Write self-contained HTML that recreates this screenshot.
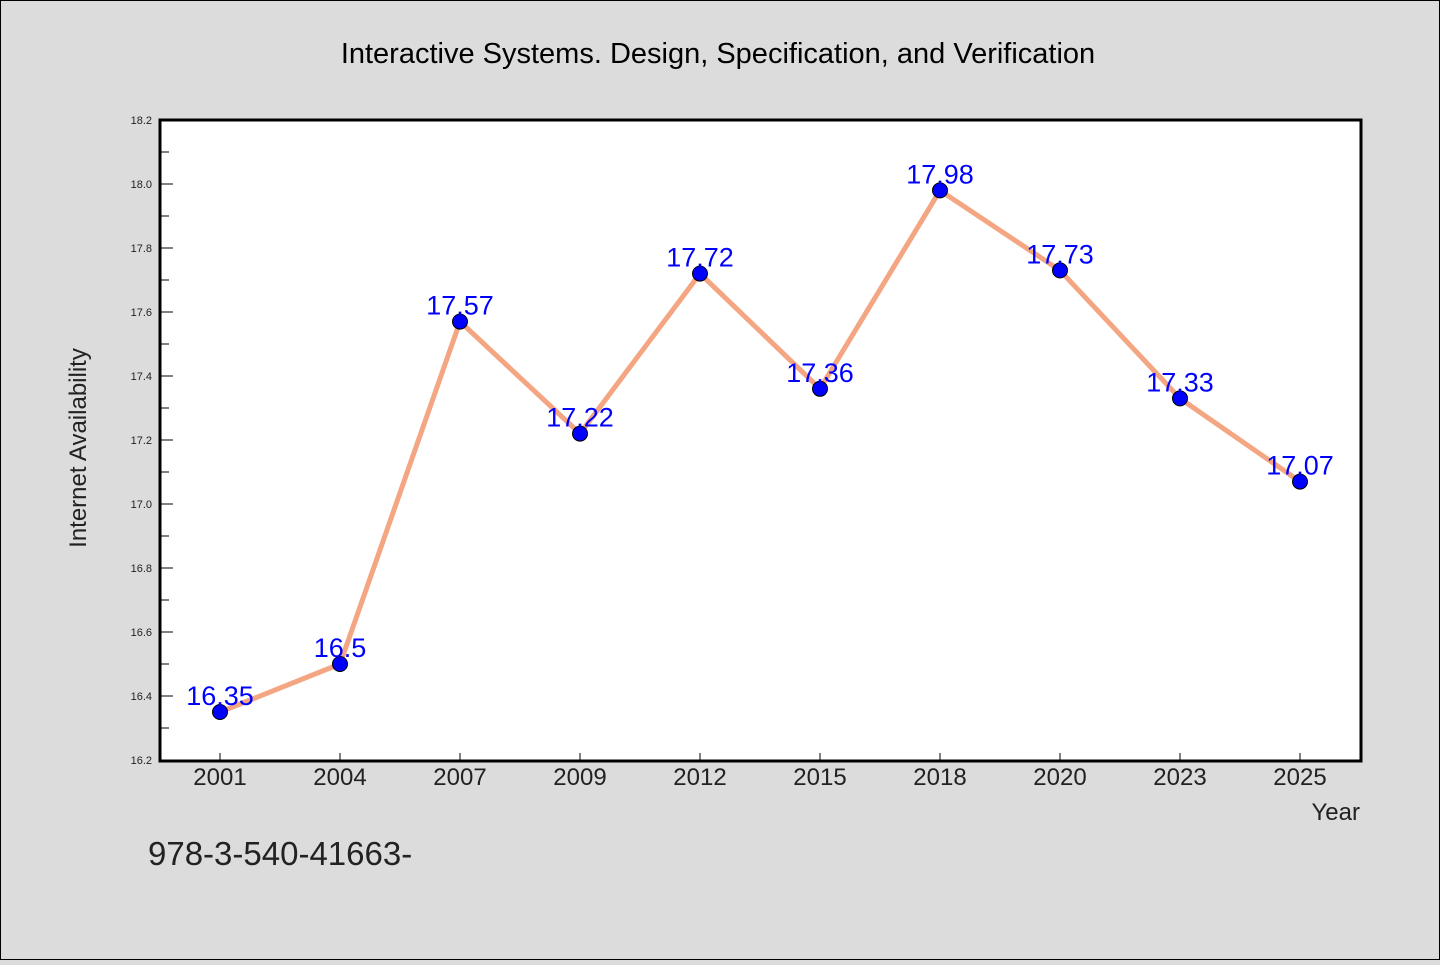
<!DOCTYPE html>
<html><head><meta charset="utf-8"><style>
html,body{margin:0;padding:0;background:#dcdcdc;}
svg text{font-family:"WenQuanYi Zen Hei","Liberation Sans",sans-serif;}
</style></head><body>
<svg width="1440" height="960" xmlns="http://www.w3.org/2000/svg">
<rect x="0.5" y="0.5" width="1439" height="959" fill="#dcdcdc" stroke="#000"/>
<text x="718" y="63" font-size="29" text-anchor="middle" fill="#000">Interactive Systems. Design, Specification, and Verification</text>
<rect x="160" y="120" width="1201" height="641" fill="#fff"/>
<g id="axes"></g>
<g id="marks"></g>
<rect x="160" y="120" width="1201" height="641" fill="none" stroke="#000" stroke-width="3"/>
<text x="86" y="448" font-size="24" text-anchor="middle" transform="rotate(-90 86 448)" fill="#222">Internet Availability</text>
<text x="1360" y="820" font-size="24" text-anchor="end" fill="#222">Year</text>
<text x="148" y="865" font-size="33" fill="#222">978-3-540-41663-</text>
</svg>
<script>
const categories=["2001","2004","2007","2009","2012","2015","2018","2020","2023","2025"];
const values=[16.35,16.5,17.57,17.22,17.72,17.36,17.98,17.73,17.33,17.07];
const yTicks=[16.2,16.4,16.6,16.8,17.0,17.2,17.4,17.6,17.8,18.0,18.2];
const NS="http://www.w3.org/2000/svg";
const x0=160,x1=1360,yTop=120,yBot=760,yMin=16.2,yMax=18.2;
const xs=i=>x0+(i+0.5)*(x1-x0)/categories.length;
const ys=v=>yBot-(v-yMin)/(yMax-yMin)*(yBot-yTop);
function mk(tag,attrs,parent){const e=document.createElementNS(NS,tag);for(const k in attrs)e.setAttribute(k,attrs[k]);parent.appendChild(e);return e;}
const axes=document.getElementById('axes'),marks=document.getElementById('marks');
yTicks.forEach((t,i)=>{
  const y=ys(t);
  const l=mk('line',{x1:160,x2:173,y1:y,y2:y,stroke:'#000','stroke-width':1},axes);
  
  
  const tx=mk('text',{x:152,y:y+4,'font-size':11,'text-anchor':'end',fill:'#222'},axes);
  tx.textContent=t.toFixed(1);
  
  
  if(i<yTicks.length-1){
    const ym=ys(t+0.1);
    const m=mk('line',{x1:160,x2:169,y1:ym,y2:ym,stroke:'#000','stroke-width':1},axes);
    
    
  }
});
categories.forEach((c,i)=>{
  const x=xs(i);
  const l=mk('line',{x1:x,x2:x,y1:761,y2:753,stroke:'#000','stroke-width':1},axes);
  
  
  const tx=mk('text',{x:x,y:785,'font-size':24,'text-anchor':'middle',fill:'#222'},axes);
  tx.textContent=c;
  
  
});
const pts=values.map((v,i)=>xs(i)+','+ys(v)).join(' ');
const line=mk('polyline',{points:pts,fill:'none',stroke:'#f4a582','stroke-width':5,'stroke-linejoin':'round'},marks);


values.forEach((v,i)=>{
  const c=mk('circle',{cx:xs(i),cy:ys(v),r:7.5,fill:'#0000ff',stroke:'#000','stroke-width':1},marks);
  
  
});
values.forEach((v,i)=>{
  const t=mk('text',{x:xs(i),y:ys(v)-7,'font-size':27,'text-anchor':'middle',fill:'#0000ff'},marks);
  t.textContent=String(v);
  
  
});
</script>
</body></html>
